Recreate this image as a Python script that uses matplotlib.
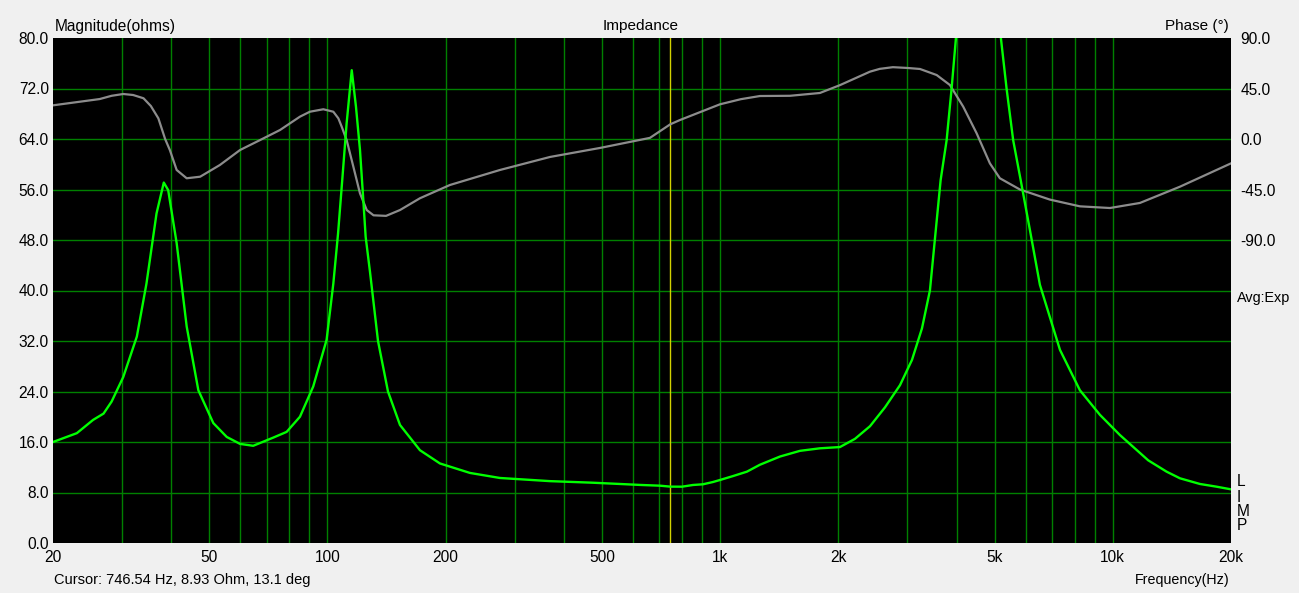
import matplotlib
matplotlib.use("Agg")
import matplotlib.pyplot as plt

# Impedance magnitude (ohms)
mag_freq = [20, 23.0, 25.3, 26.9, 28.2, 30.2, 32.7, 34.6, 36.7, 38.3, 39.3, 41.3,
            43.8, 46.9, 51.2, 55.4, 59.9, 64.7, 72.8, 78.7, 85.1, 92.0, 99.5,
            103.5, 106.4, 108.9, 111.9, 115.3, 118.2, 121.0, 123.4, 125.1, 128.3,
            134.5, 142.6, 153, 172, 193.4, 230.6, 275, 368.8, 474, 555.8, 624.8,
            702.6, 746.5, 799.4, 852.6, 904.2, 958.8, 998.8, 1078, 1170, 1263,
            1421, 1597, 1795, 2019, 2205, 2408, 2630, 2871, 3080, 3266, 3422,
            3644, 3774, 3886, 3986, 4200, 4450, 4700, 4950, 5188, 5364, 5576,
            5826, 6150, 6522, 7336, 8246, 9274, 10428, 12306, 13710, 14826,
            16670, 18380, 20000]
mag_ohms = [16.0, 17.4, 19.5, 20.5, 22.4, 26.3, 32.7, 41.1, 52.2, 57.1, 55.9, 47.5,
            34.3, 24.2, 19.0, 16.8, 15.7, 15.4, 16.7, 17.6, 20.0, 24.8, 32.2,
            41.1, 49.0, 57.0, 66.5, 74.9, 69.1, 62.3, 54.3, 48.5, 43.0,
            32.0, 24.0, 18.7, 14.7, 12.6, 11.1, 10.3, 9.8, 9.55, 9.35, 9.2,
            9.08, 8.93, 8.92, 9.19, 9.3, 9.66, 9.98, 10.6, 11.3, 12.4,
            13.7, 14.6, 15.0, 15.2, 16.5, 18.5, 21.5, 25.0, 29.0, 34.0, 40.0,
            57.5, 63.8, 72.0, 80.0, 93.0, 100.0, 96.0, 88.0, 80.0, 72.0, 63.8,
            57.5, 49.6, 40.9, 30.6, 24.2, 20.3, 17.1, 13.1, 11.3, 10.25,
            9.35, 8.92, 8.5]

# Phase (degrees)
ph_freq = [20, 26.3, 28.2, 30.2, 32.0, 34.0, 35.5, 37.1, 38.6, 39.7, 41.3, 43.8,
           47.4, 53.2, 59.9, 67.3, 75.7, 85.1, 90.2, 97.6, 103.5, 106.6, 108.7,
           111.9, 116.4, 121.0, 125.9, 131.0, 141.0, 153, 172, 205, 275, 368.8,
           494, 662.6, 746.5, 790, 998.8, 1130, 1263, 1506, 1795, 2019, 2408,
           2550, 2754, 3000, 3228, 3560, 3848, 4160, 4500, 4864, 5158, 5800,
           6915, 8246, 9832, 11722, 14826, 20000]
ph_deg = [30.0, 35.6, 38.5, 40.1, 39.2, 36.3, 29.4, 18.4, 0.0, -10.0, -27.6, -35.0,
          -33.6, -23.2, -9.8, -1.0, 8.0, 19.9, 24.3, 26.5, 24.3, 18.4, 11.0,
          -0.9, -24.7, -48.4, -63.3, -68.0, -68.5, -63.3, -52.8, -41.0, -27.6, -16.0,
          -8.0, 1.0, 13.1, 16.9, 30.9, 35.5, 38.3, 38.5, 41.0, 48.0, 60.0,
          62.5, 64.0, 63.3, 62.4, 57.0, 48.1, 28.8, 5.1, -21.7, -35.0, -45.0,
          -54.0, -60.0, -61.5, -57.0, -42.5, -21.7]

cursor_hz = 746.54

xt = [20, 50, 100, 200, 500, 1000, 2000, 5000, 10000, 20000]
xt_labels = ["20", "50", "100", "200", "500", "1k", "2k", "5k", "10k", "20k"]
yt_mag = [0, 8, 16, 24, 32, 40, 48, 56, 64, 72, 80]
yt_phase = [90, 45, 0, -45, -90]

plt.rcParams['font.family'] = ['Liberation Sans', 'DejaVu Sans']
W, H = 1299, 593
fig = plt.figure(figsize=(W / 100, H / 100), dpi=100, facecolor='#f0f0f0')
ax = fig.add_axes([53 / W, (H - 543) / H, (1231 - 53) / W, (543 - 38) / H])
ax.set_facecolor('black')
ax2 = ax.twinx()

ax.set_xscale('log')
ax.set_xlim(20, 20000)
ax.set_ylim(0, 80)
ax2.set_ylim(-360, 90)

grid_minor = [v * d for d in (10, 100, 1000) for v in range(2, 10)] + [10000, 20000]
ax.set_xticks(xt, xt_labels)
ax.set_xticks([g for g in grid_minor if g not in xt], minor=True)
ax.set_yticks(yt_mag, [f"{v:.1f}" for v in yt_mag])
ax2.set_yticks(yt_phase, [f"{v:.1f}" for v in yt_phase])
ax.grid(True, which='both', color='#008000', lw=1.0)
ax.set_axisbelow(True)

# no grid lines on the plot border
for t in (ax.xaxis.get_major_ticks()[0], ax.xaxis.get_major_ticks()[-1],
          ax.yaxis.get_major_ticks()[0], ax.yaxis.get_major_ticks()[-1]):
    t.gridline.set_visible(False)

ax.tick_params(which='both', length=0, labelsize=11.2, colors='black')
ax.tick_params(axis='x', pad=5)
ax.tick_params(axis='y', pad=3)
ax2.tick_params(length=0, labelsize=11.2, pad=7)
for a in (ax, ax2):
    for s in a.spines.values():
        s.set_visible(False)

# cursor, phase, magnitude (magnitude drawn on top via the magnitude axis transform)
ax2.axvline(cursor_hz, color='#d0d000', lw=1.0)
ax2.plot(ph_freq, ph_deg, color='#8c8c8c', lw=1.6)
ax2.plot(mag_freq, mag_ohms, color='#00ff00', lw=1.7, transform=ax.transData)
ax2.set_ylim(-360, 90)

def px(x, y):
    return x / W, 1 - y / H

fig.text(*px(55, 26), "Magnitude(ohms)", fontsize=11.2, va='center', ha='left')
fig.text(*px(641, 26), "Impedance", fontsize=11.1, va='center', ha='center')
fig.text(*px(1229, 26), "Phase (°)", fontsize=11.0, va='center', ha='right')
fig.text(*px(1237, 298), "Avg:Exp", fontsize=10.4, va='center', ha='left')
for ch, yy in zip("LIMP", (482, 497, 511, 525)):
    fig.text(*px(1237, yy), ch, fontsize=11.2, va='center', ha='left')
fig.text(*px(54, 580), "Cursor: 746.54 Hz, 8.93 Ohm, 13.1 deg", fontsize=10.5, va='center', ha='left')
fig.text(*px(1230, 580), "Frequency(Hz)", fontsize=10.3, va='center', ha='right')

fig.savefig("out.png", dpi=100, facecolor=fig.get_facecolor())
